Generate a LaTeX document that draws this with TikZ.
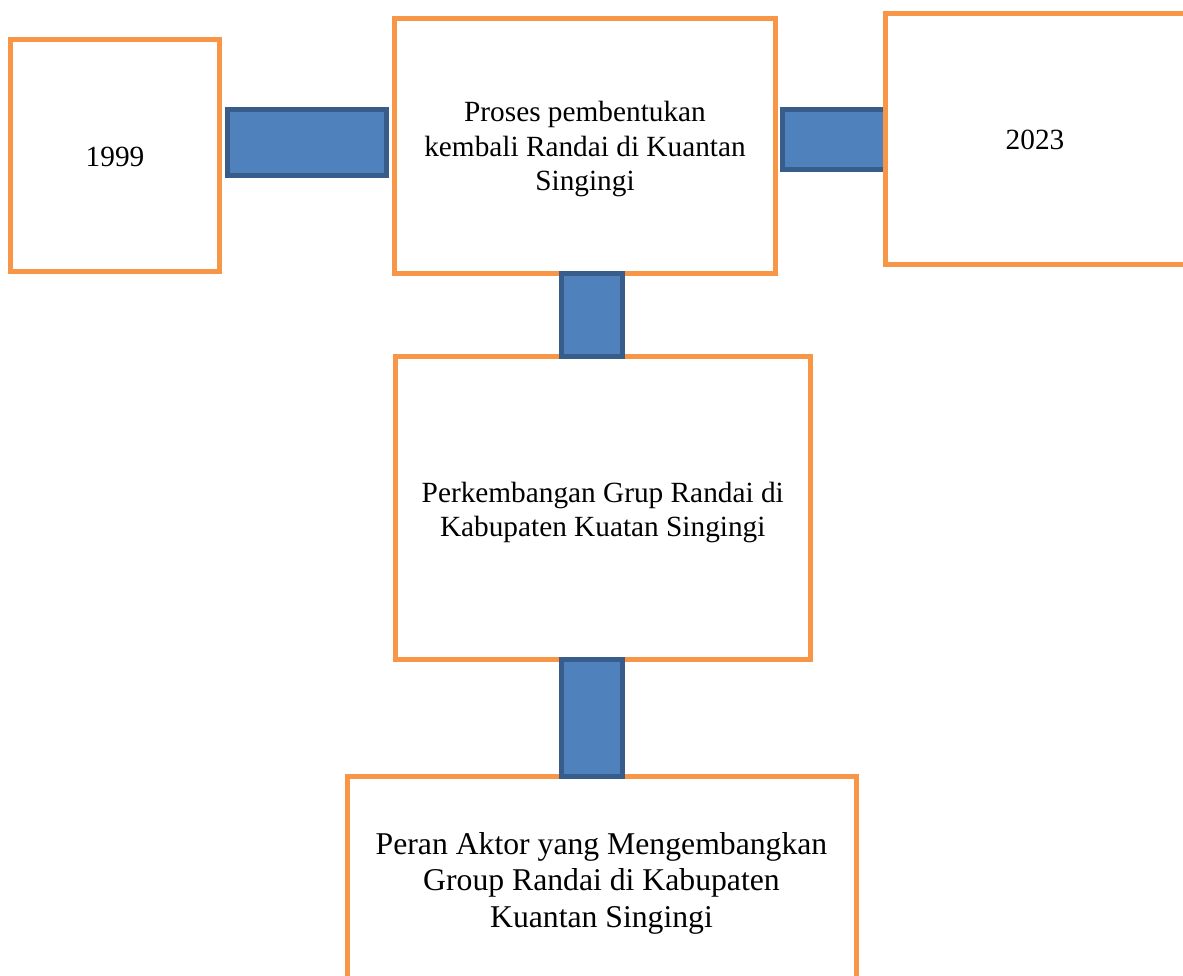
\documentclass[tikz,border=0pt]{standalone}
\usepackage{fontspec}
\setmainfont{Liberation Serif}
\usetikzlibrary{calc}
\definecolor{boxorange}{HTML}{F79646}
\definecolor{barfill}{HTML}{4F81BD}
\definecolor{barborder}{HTML}{385D8A}
\begin{document}
\begin{tikzpicture}[x=1pt,y=-1pt,
  framebox/.style={draw=boxorange, line width=5pt, fill=white, rectangle,
    inner sep=0pt, outer sep=0pt},
  bar/.style={draw=barborder, fill=barfill, line width=5pt},
  txt/.style={inner sep=0pt, outer sep=0pt, align=center,
    font=\fontsize{29.3pt}{34.5pt}\selectfont},
  bigtxt/.style={txt, font=\fontsize{31.7pt}{36.5pt}\selectfont}]
\useasboundingbox (0,0) rectangle (1183,975);

% boxes (drawn in layering order together with bars)
\node[framebox, minimum width=209pt, minimum height=232pt] (b1999) at (115,155.5) {};
\node[framebox, minimum width=381pt, minimum height=254.5pt] (proses) at (585,145.75) {};

% bar 1999 -> proses
\draw[bar] ($(b1999.east)+(8,-46)$) rectangle ($(proses.west)+(-8,29.75)$);

\node[framebox, minimum width=415.5pt, minimum height=303pt] (perk) at (602.75,508) {};
% bar proses -> perkembangan
\draw[bar] ($(proses.south)+(-23.5,0.5)$) rectangle ($(perk.north)+(19.75,0)$);

\node[framebox, minimum width=509pt, minimum height=207pt] (peran) at (601.5,880) {};
% bar perkembangan -> peran
\draw[bar] ($(perk.south)+(-41.25,0)$) rectangle ($(peran.north)+(21,0)$);

% bar proses -> 2023
\node[framebox, minimum width=299.5pt, minimum height=251pt] (b2023) at (1035.25,139) {};
\draw[bar] ($(proses.east)+(7,-36.25)$) rectangle ($(b2023.west)+(0,30.5)$);
% redraw 2023 box on top of bar
\draw[draw=boxorange, line width=5pt] (b2023.north west) rectangle (b2023.south east);

% texts
\node[txt] (t1999) at (115,157) {1999};
\node[txt] (t2023) at (1035,140) {2023};
\node[txt] (tproses) at (585,149.2) {Proses pembentukan\\kembali Randai di Kuantan\\Singingi};
\node[txt] (tperk) at (602.75,512.7) {Perkembangan Grup Randai di\\Kabupaten Kuatan Singingi};
\node[bigtxt] (tperan) at (601.5,883.1) {Peran Aktor yang Mengembangkan\\Group Randai di Kabupaten\\Kuantan Singingi};
\end{tikzpicture}
\end{document}
